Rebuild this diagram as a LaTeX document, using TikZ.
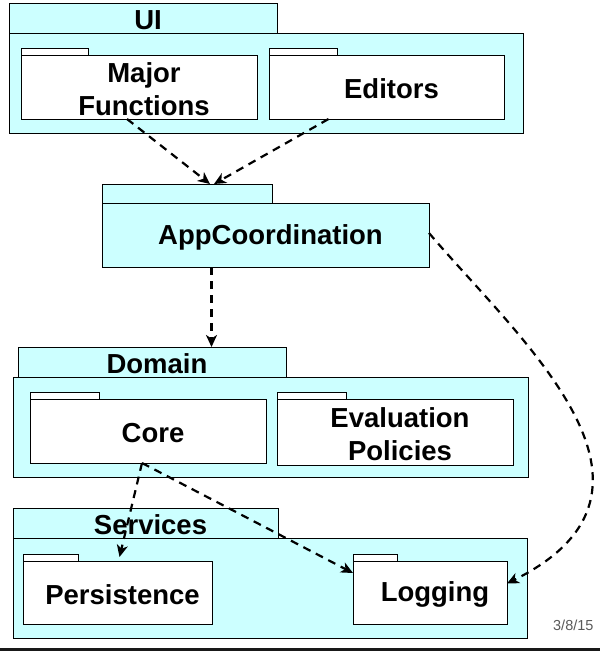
\documentclass[tikz,border=0pt]{standalone}
\usepackage{fontspec}
\setmainfont{Liberation Sans}
\usepackage{xcolor}
\usetikzlibrary{arrows.meta, positioning}
\definecolor{pkgcyan}{RGB}{204,255,255}

\begin{document}
\begin{tikzpicture}[
    x=1pt, y=-1pt,
    body/.style={rectangle, draw, line width=0.9pt, fill=pkgcyan, anchor=north west, inner sep=0pt, outer sep=0pt},
    sub/.style={body, fill=white},
    tab/.style={body, anchor=south west},
    subtab/.style={tab, fill=white, minimum height=7pt},
    txt/.style={font=\fontsize{27.5}{33}\selectfont\bfseries, align=center, xshift=5pt, yshift=-2pt},
    dep/.style={-{Stealth[length=12pt, width=11pt, inset=3.5pt]}, dash pattern=on 8pt off 6pt, line width=2.2pt}
]
\useasboundingbox (0,0) rectangle (600,651);

% UI package
\node[body, minimum width=514pt, minimum height=100pt] (ui) at (9,33) {};
\node[tab, minimum width=268pt, minimum height=30pt, label={[txt]center:UI}] (uitab) at (ui.north west) {};
\node[sub, minimum width=236pt, minimum height=64pt, label={[txt]center:Major\\Functions}] (major) at (21,55) {};
\node[subtab, minimum width=67pt] (majortab) at (major.north west) {};
\node[sub, minimum width=235pt, minimum height=64pt, label={[txt]center:Editors}] (editors) at (269,55) {};
\node[subtab, minimum width=68pt] (editorstab) at (editors.north west) {};

% AppCoordination package
\node[body, minimum width=327pt, minimum height=64pt, label={[txt]center:AppCoordination}] (app) at (102,203) {};
\node[tab, minimum width=170pt, minimum height=19pt] (apptab) at (app.north west) {};

% Domain package
\node[body, minimum width=515pt, minimum height=100pt] (domain) at (13,377) {};
\node[tab, minimum width=268pt, minimum height=30pt, label={[txt]center:Domain}] (domaintab) at ([xshift=5pt]domain.north west) {};
\node[sub, minimum width=236pt, minimum height=64pt, label={[txt]center:Core}] (core) at (30,399) {};
\node[subtab, minimum width=69pt] (coretab) at (core.north west) {};
\node[sub, minimum width=236pt, minimum height=66pt, label={[txt]center:Evaluation\\Policies}] (eval) at (277,399) {};
\node[subtab, minimum width=69pt] (evaltab) at (eval.north west) {};

% Services package
\node[body, minimum width=514pt, minimum height=100pt] (services) at (13,538) {};
\node[tab, minimum width=265pt, minimum height=30pt, label={[txt]center:Services}] (servicestab) at (services.north west) {};
\node[sub, minimum width=189pt, minimum height=63pt, label={[txt]center:Persistence}] (persist) at (23,561) {};
\node[subtab, minimum width=55pt] (persisttab) at (persist.north west) {};
\node[sub, minimum width=154pt, minimum height=63pt, label={[txt]center:Logging}] (logging) at (353,561) {};
\node[subtab, minimum width=44pt] (loggingtab) at (logging.north west) {};

% Dependencies
\draw[dep] ([xshift=-12pt]major.south) -- ([xshift=23pt]apptab.north);
\draw[dep] ([xshift=-58pt]editors.south) -- ([xshift=27pt]apptab.north);
\draw[dep] ([xshift=-54pt]app.south) -- ([xshift=-54pt]app.south |- domaintab.north);
\draw[dep] ([yshift=2pt]app.east) .. controls (520,340) and (695,490) .. ([yshift=9pt]logging.east);
\draw[dep] ([xshift=-6pt]core.south) -- ([xshift=2pt,yshift=4pt]persist.north);
\draw[dep] ([xshift=-6pt]core.south) -- ([yshift=-12pt]logging.north west);

% Footer
\node[anchor=base east, font=\fontsize{14.5}{16}\selectfont, text=black!65] (date) at (597,630) {3/8/15};
\fill[black!90] (0,648) rectangle (600,651);

\end{tikzpicture}
\end{document}
